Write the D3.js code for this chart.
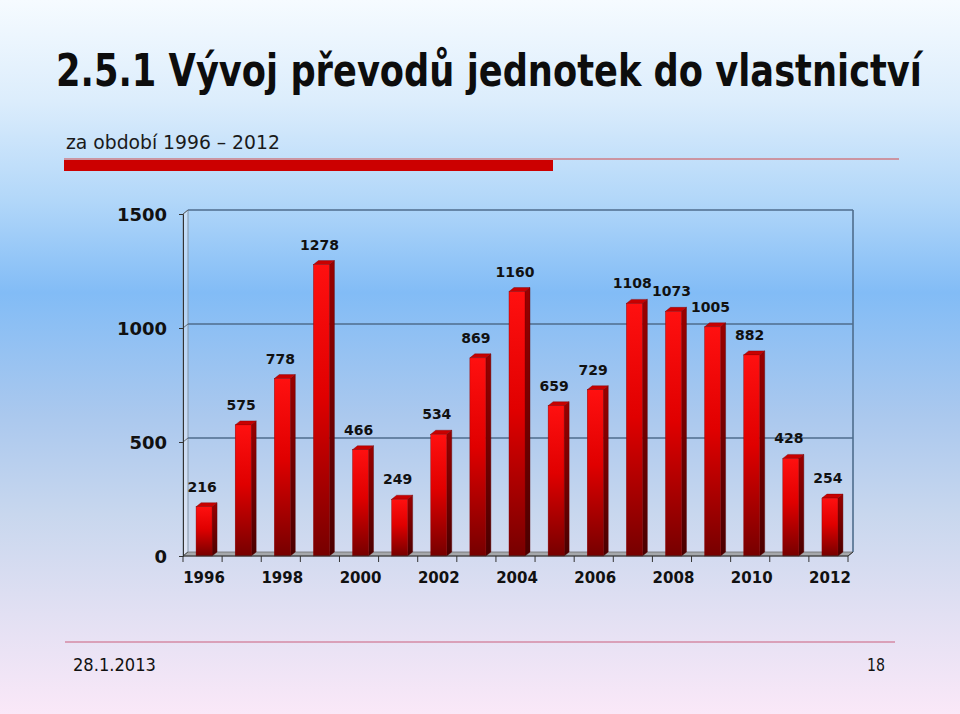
<!DOCTYPE html>
<html><head><meta charset="utf-8">
<script src="https://cdn.jsdelivr.net/npm/d3@7"></script>
<style>html,body{margin:0;padding:0;overflow:hidden;}svg{display:block;}</style>
</head><body>
<svg id="c" width="960" height="714"></svg>
<script>
const years = ["1996","1997","1998","1999","2000","2001","2002","2003","2004","2005","2006","2007","2008","2009","2010","2011","2012"];
const values = [216,575,778,1278,466,249,534,869,1160,659,729,1108,1073,1005,882,428,254];
const yTicks = [0,500,1000,1500];
const xTickLabels = ["1996","1998","2000","2002","2004","2006","2008","2010","2012"];
const titleText = "2.5.1 Vývoj převodů jednotek do vlastnictví";
const subtitleText = "za období 1996 – 2012";
const footerDate = "28.1.2013";
const footerPage = "18";

const svg = d3.select("#c");
const defs = svg.append("defs");
const bg = defs.append("linearGradient").attr("id","bg").attr("x1",0).attr("y1",0).attr("x2",0).attr("y2",1);
[[0,"#f6fbff"],[0.14,"#dcedfc"],[0.28,"#b2d7f9"],[0.41,"#82bcf6"],[0.58,"#aac8ee"],[0.72,"#c8d7ee"],[0.86,"#e2e0f3"],[1,"#fae8f8"]]
  .forEach(s=>bg.append("stop").attr("offset",s[0]).attr("stop-color",s[1]));
const fg = defs.append("linearGradient").attr("id","front").attr("x1",0).attr("y1",0).attr("x2",0).attr("y2",1);
[[0,"#ff1010"],[0.45,"#e00000"],[1,"#760000"]].forEach(s=>fg.append("stop").attr("offset",s[0]).attr("stop-color",s[1]));
const sg = defs.append("linearGradient").attr("id","side").attr("x1",0).attr("y1",0).attr("x2",0).attr("y2",1);
[[0,"#9a0000"],[1,"#4a0000"]].forEach(s=>sg.append("stop").attr("offset",s[0]).attr("stop-color",s[1]));

svg.append("rect").attr("width",960).attr("height",714).attr("fill","url(#bg)");

// helper: text squeezed horizontally to a target width via transform
function fitText(parent, str, x0, y0, width, size, weight, color, anchor){
  const t = parent.append("text").attr("font-family","DejaVu Sans").attr("font-weight",weight)
    .attr("font-size",size).attr("fill",color).text(str);
  const w = t.node().getComputedTextLength();
  const s = Math.min(1, width / w);
  if (anchor === "end") t.attr("text-anchor","end");
  t.attr("transform",`translate(${x0},${y0}) scale(${s},1)`);
  return t;
}

// Title
fitText(svg, titleText, 56, 86, 866, 44, "bold", "#0d0d0d");
fitText(svg, subtitleText, 66, 149, 214, 20, "normal", "#1a1a1a");
svg.append("line").attr("x1",64).attr("x2",899).attr("y1",159).attr("y2",159).attr("stroke","#d44a4a").attr("stroke-width",1.2);
svg.append("rect").attr("x",64).attr("y",160).attr("width",489).attr("height",11).attr("fill","#cc0000");

// Footer
svg.append("line").attr("x1",65).attr("x2",895).attr("y1",642).attr("y2",642).attr("stroke","#d48aa4").attr("stroke-width",1.5);
fitText(svg, footerDate, 73, 671, 83, 17, "normal", "#111");
fitText(svg, footerPage, 885, 671, 18, 17, "normal", "#111", "end");

// Chart
const left = 183, right = 848, dX = 5, dY = -4;
const x = d3.scaleBand().domain(years).range([left,right]).paddingInner(0).paddingOuter(0);
const y = d3.scaleLinear().domain([0,1500]).range([556,214]);
const g = svg.append("g");
const wallC = "#4f6d8c";

// left wall
g.append("path").attr("d",`M${left},${y(0)}L${left+dX},${y(0)+dY}L${left+dX},${y(1500)+dY}L${left},${y(1500)}Z`)
  .attr("fill","rgba(235,240,248,0.45)").attr("stroke","#8496a8").attr("stroke-width",1);
// floor
g.append("path").attr("d",`M${left},${y(0)}L${right},${y(0)}L${right+dX},${y(0)+dY}L${left+dX},${y(0)+dY}Z`)
  .attr("fill","#a6a8ac").attr("stroke","#707070").attr("stroke-width",0.8);
// back wall gridlines
g.selectAll(".grid").data(yTicks.filter(v=>v>0)).join("line")
  .attr("x1",left+dX).attr("x2",right+dX).attr("y1",d=>y(d)+dY).attr("y2",d=>y(d)+dY)
  .attr("stroke",wallC).attr("stroke-width",1.6);
g.append("line").attr("x1",right+dX).attr("x2",right+dX).attr("y1",y(1500)+dY).attr("y2",y(0)+dY)
  .attr("stroke",wallC).attr("stroke-width",1.6);
// diagonals from ticks to back wall
g.selectAll(".diag").data(yTicks).join("line")
  .attr("x1",left).attr("x2",left+dX).attr("y1",d=>y(d)).attr("y2",d=>y(d)+dY)
  .attr("stroke","#555").attr("stroke-width",0.8);

// bars
const bw = 16;
const bars = g.selectAll(".bar").data(years.map((yr,i)=>({yr,v:values[i]}))).join("g");
bars.each(function(d){
  const sel = d3.select(this);
  const x0 = x(d.yr) + x.bandwidth()/2 - bw/2 + 1.5;
  const yt = y(d.v), yb = y(0);
  sel.append("path").attr("d",`M${x0+bw},${yb}L${x0+bw+dX},${yb+dY}L${x0+bw+dX},${yt+dY}L${x0+bw},${yt}Z`)
    .attr("fill","url(#side)").attr("stroke","#5a0000").attr("stroke-width",0.4);
  sel.append("path").attr("d",`M${x0},${yt}L${x0+dX},${yt+dY}L${x0+bw+dX},${yt+dY}L${x0+bw},${yt}Z`)
    .attr("fill","#c80000").attr("stroke","#7a0000").attr("stroke-width",0.4);
  sel.append("rect").attr("x",x0).attr("y",yt).attr("width",bw).attr("height",yb-yt)
    .attr("fill","url(#front)").attr("stroke","#8a0000").attr("stroke-width",0.4);
  sel.append("text").attr("x",x0+bw/2-2).attr("y",yt-15).attr("text-anchor","middle")
    .attr("font-family","DejaVu Sans").attr("font-weight","bold").attr("font-size",14).attr("fill","#111").text(d.v);
});

// axes
const yAxis = d3.axisLeft(y).tickValues(yTicks).tickSize(4).tickPadding(12).tickFormat(d3.format("d"));
const ya = svg.append("g").attr("transform",`translate(${left},0)`).call(yAxis);
ya.select(".domain").attr("stroke","#333");
ya.selectAll(".tick line").attr("stroke","#333");
ya.selectAll("text").attr("font-family","DejaVu Sans").attr("font-weight","bold").attr("font-size",18).attr("fill","#111").attr("dy","0.35em");

const xa = svg.append("g").attr("transform",`translate(0,${y(0)})`);
xa.append("line").attr("x1",left).attr("x2",right).attr("y1",0).attr("y2",0).attr("stroke","#333");
xa.selectAll(".xt").data(years.concat(["end"])).join("line")
  .attr("x1",(d,i)=>i<years.length? x(d):right).attr("x2",(d,i)=>i<years.length? x(d):right)
  .attr("y1",0).attr("y2",6).attr("stroke","#333");
g.append("line").attr("x1",right).attr("x2",right+dX).attr("y1",y(0)).attr("y2",y(0)+dY).attr("stroke","#333");
const xAxis = d3.axisBottom(x).tickValues(xTickLabels).tickSize(0).tickPadding(16);
const xg = svg.append("g").attr("transform",`translate(1.5,${y(0)})`).call(xAxis);
xg.select(".domain").remove();
xg.selectAll("text").attr("font-family","DejaVu Sans").attr("font-weight","bold").attr("font-size",15).attr("fill","#111");
</script>
</body></html>
